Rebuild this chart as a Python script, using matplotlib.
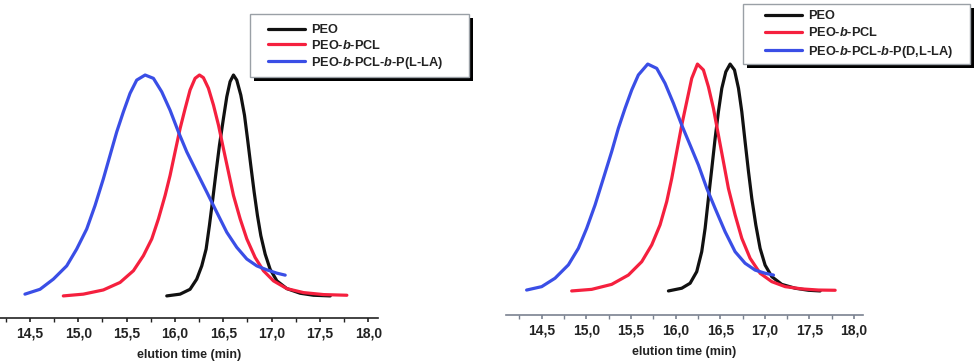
import matplotlib
matplotlib.use("Agg")
import matplotlib.pyplot as plt
from matplotlib.patches import Rectangle

plt.rcParams['font.family'] = ['Liberation Sans', 'DejaVu Sans']
plt.rcParams['mathtext.fontset'] = 'custom'
plt.rcParams['mathtext.it'] = 'Liberation Sans:italic:bold'
plt.rcParams['mathtext.rm'] = 'Liberation Sans:bold'

# ---- data (elution time in min, normalized signal) ----
# left panel
L_peo_t = [15.915, 16.053, 16.156, 16.225, 16.277, 16.322, 16.356, 16.391, 16.425, 16.460, 16.501, 16.536, 16.570,
           16.605, 16.639, 16.681, 16.719, 16.750, 16.784, 16.819, 16.853, 16.888, 16.933, 16.984, 17.054, 17.157,
           17.295, 17.433, 17.606]
L_peo_y = [0.0, 0.008, 0.03, 0.076, 0.136, 0.212, 0.318, 0.439, 0.561, 0.682, 0.803, 0.902, 0.97,
           1.0, 0.977, 0.909, 0.818, 0.712, 0.591, 0.470, 0.364, 0.273, 0.189, 0.121, 0.068, 0.033,
           0.012, 0.003, 0.0]
L_pcl_t = [14.845, 15.052, 15.259, 15.432, 15.570, 15.673, 15.760, 15.829, 15.898, 15.949, 16.001, 16.053, 16.105,
           16.156, 16.208, 16.253, 16.294, 16.346, 16.398, 16.450, 16.501, 16.553, 16.605, 16.674, 16.743, 16.829,
           16.915, 17.019, 17.157, 17.330, 17.537, 17.778]
L_pcl_y = [0.0, 0.008, 0.027, 0.061, 0.114, 0.182, 0.258, 0.349, 0.455, 0.545, 0.652, 0.758, 0.848,
           0.932, 0.985, 1.0, 0.988, 0.94, 0.864, 0.773, 0.667, 0.561, 0.455, 0.349, 0.258, 0.174,
           0.114, 0.068, 0.033, 0.015, 0.006, 0.003]
L_pla_t = [14.448, 14.604, 14.742, 14.880, 14.983, 15.087, 15.173, 15.259, 15.328, 15.397, 15.466, 15.535, 15.604,
           15.691, 15.777, 15.863, 15.949, 16.036, 16.122, 16.225, 16.329, 16.432, 16.536, 16.639, 16.743, 16.846,
           16.950, 17.054, 17.140]
L_pla_y = [0.008, 0.030, 0.076, 0.136, 0.212, 0.303, 0.409, 0.530, 0.636, 0.742, 0.833, 0.917, 0.977,
           1.0, 0.985, 0.924, 0.841, 0.742, 0.652, 0.561, 0.470, 0.379, 0.288, 0.220, 0.167, 0.136,
           0.118, 0.103, 0.094]

# right panel
R_peo_t = [15.920, 16.069, 16.163, 16.237, 16.293, 16.331, 16.368, 16.406, 16.443, 16.480, 16.518, 16.563, 16.611,
           16.660, 16.705, 16.742, 16.779, 16.817, 16.854, 16.899, 16.947, 17.003, 17.078, 17.190, 17.340, 17.489,
           17.620]
R_peo_y = [0.0, 0.012, 0.034, 0.085, 0.173, 0.276, 0.408, 0.540, 0.672, 0.790, 0.893, 0.966, 1.0,
           0.974, 0.893, 0.790, 0.658, 0.526, 0.408, 0.291, 0.188, 0.114, 0.063, 0.029, 0.012, 0.003,
           0.0]
R_pcl_t = [14.836, 15.060, 15.284, 15.471, 15.621, 15.733, 15.826, 15.901, 15.957, 16.013, 16.069, 16.125, 16.181,
           16.245, 16.312, 16.368, 16.424, 16.480, 16.536, 16.592, 16.667, 16.742, 16.835, 16.947, 17.078, 17.228,
           17.414, 17.601, 17.788]
R_pcl_y = [0.0, 0.007, 0.029, 0.070, 0.129, 0.203, 0.291, 0.394, 0.496, 0.614, 0.731, 0.834, 0.937,
           1.0, 0.974, 0.900, 0.805, 0.687, 0.570, 0.452, 0.335, 0.232, 0.144, 0.078, 0.041, 0.019,
           0.009, 0.004, 0.003]
R_pla_t = [14.331, 14.500, 14.649, 14.799, 14.911, 15.004, 15.098, 15.191, 15.284, 15.359, 15.434, 15.509, 15.583,
           15.688, 15.789, 15.882, 15.976, 16.069, 16.163, 16.256, 16.350, 16.443, 16.555, 16.667, 16.779, 16.891,
           17.003, 17.097]
R_pla_y = [0.004, 0.019, 0.056, 0.115, 0.188, 0.276, 0.379, 0.496, 0.614, 0.717, 0.805, 0.886, 0.952,
           1.0, 0.981, 0.915, 0.827, 0.731, 0.643, 0.555, 0.452, 0.364, 0.261, 0.173, 0.122, 0.092,
           0.078, 0.070]

labels_left = ['PEO', r'PEO-$b$-PCL', r'PEO-$b$-PCL-$b$-P(L-LA)']
labels_right = ['PEO', r'PEO-$b$-PCL', r'PEO-$b$-PCL-$b$-P(D,L-LA)']
colors = ['#111111', '#f5203e', '#3a4ee6']
ticks = [14.5, 15.0, 15.5, 16.0, 16.5, 17.0, 17.5, 18.0]
tick_labels = ['14,5', '15,0', '15,5', '16,0', '16,5', '17,0', '17,5', '18,0']
minor_ticks = [14.25, 14.75, 15.25, 15.75, 16.25, 16.75, 17.25, 17.75]

W, H = 976, 364
fig = plt.figure(figsize=(W / 100, H / 100), dpi=100)

def px_axes(x0, x1, ytop, ybot):
    return fig.add_axes([x0 / W, 1 - ybot / H, (x1 - x0) / W, (ybot - ytop) / H])

def fig_box(x0, y0, x1, y1, **kw):
    fig.patches.append(Rectangle((x0 / W, 1 - y1 / H), (x1 - x0) / W, (y1 - y0) / H,
                                 transform=fig.transFigure, figure=fig, **kw))

axL = px_axes(0, 378, 60, 318)
axR = px_axes(506, 863, 50, 315)

def style(ax, xlim, ylim, spine_color):
    ax.set_xlim(*xlim)
    ax.set_ylim(*ylim)
    for s in ['top', 'left', 'right']:
        ax.spines[s].set_visible(False)
    ax.spines['bottom'].set_color(spine_color)
    ax.spines['bottom'].set_linewidth(1.2)
    ax.set_yticks([])
    ax.set_xticks(ticks)
    ax.set_xticklabels(tick_labels, fontsize=10, fontweight='bold', color='#222222')
    ax.set_xticks(minor_ticks, minor=True)
    ax.tick_params(axis='x', which='major', direction='out', length=3, width=1.2, color=spine_color, pad=3)
    ax.tick_params(axis='x', which='minor', direction='out', length=3, width=1.0, color=spine_color)
    ax.set_xlabel('elution time (min)', fontsize=9, fontweight='bold', color='#222222', labelpad=6)
    ax.patch.set_visible(False)

style(axL, (14.19, 18.1), (-0.1, 1.068), '#222222')
style(axR, (14.1, 18.1), (-0.106, 1.062), '#7a8290')

# legend frames with shadows (pixel positions)
fig_box(254, 18, 473, 81, facecolor='black', edgecolor='none', zorder=1)
fig_box(250, 14, 469, 77, facecolor='white', edgecolor='#9aa0a6', linewidth=1.0, zorder=2)
fig_box(747, 8, 974, 68, facecolor='black', edgecolor='none', zorder=1)
fig_box(743, 4, 970, 64, facecolor='white', edgecolor='#9aa0a6', linewidth=1.0, zorder=2)

for ax, data, labels, anchor, spacing in [
    (axL, [(L_peo_t, L_peo_y), (L_pcl_t, L_pcl_y), (L_pla_t, L_pla_y)], labels_left, (268, 24), 0.22),
    (axR, [(R_peo_t, R_peo_y), (R_pcl_t, R_pcl_y), (R_pla_t, R_pla_y)], labels_right, (765, 10), 0.35),
]:
    handles = []
    for (t, y), c, lab in zip(data, colors, labels):
        h, = ax.plot(t, y, color=c, lw=2.3, solid_capstyle='round', solid_joinstyle='round', label=lab)
        handles.append(h)
    leg = fig.legend(handles=handles, loc='upper left',
                     bbox_to_anchor=(anchor[0] / W, 1 - anchor[1] / H),
                     bbox_transform=fig.transFigure,
                     prop={'family': 'Liberation Sans', 'weight': 'bold', 'size': 9.2},
                     frameon=False,
                     handlelength=2.9, handletextpad=0.45, labelspacing=spacing,
                     borderpad=0, borderaxespad=0)
    leg.set_zorder(5)
    for txt in leg.get_texts():
        txt.set_color('#222222')
    for line in leg.get_lines():
        line.set_linewidth(2.3)

fig.savefig('out.png', dpi=100)
